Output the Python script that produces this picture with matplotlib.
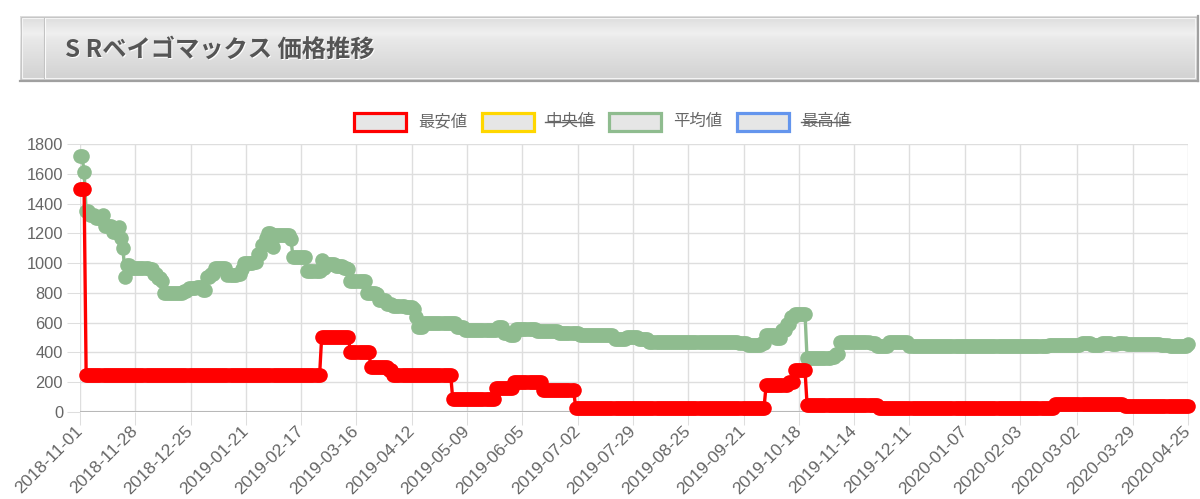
import numpy as np
import pandas as pd
import matplotlib
matplotlib.use("Agg")
import matplotlib.pyplot as plt
import matplotlib.dates as mdates
from matplotlib.patches import Rectangle
from matplotlib.lines import Line2D

plt.rcParams['font.family'] = ['Liberation Sans', 'Noto Sans CJK JP', 'DejaVu Sans']

# ---------------- data ----------------
title = "S Rベイゴマックス 価格推移"
series_names = ["最安値", "中央値", "平均値", "最高値"]
series_colors = ["#ff0000", "#ffd700", "#8fbc8f", "#6495ed"]
series_hidden = [False, True, False, True]

start_date = "2018-11-01"
end_date = "2020-04-25"

# 最安値: dates where the value changes, and the new value (constant until next change)
min_change_dates = ["2018-11-01", "2018-11-04", "2019-02-27", "2019-03-13", "2019-03-23",
                    "2019-04-01", "2019-04-03", "2019-05-02", "2019-05-23", "2019-06-01",
                    "2019-06-15", "2019-07-01", "2019-10-02", "2019-10-13", "2019-10-16",
                    "2019-10-22", "2019-11-26", "2020-02-20", "2020-03-25"]
min_change_values = [1500, 250, 505, 405, 305,
                     285, 250, 85, 160, 200,
                     150, 30, 180, 200, 280,
                     50, 30, 55, 40]

# 平均値: dates where the value changes, and the new value
avg_change_dates = ["2018-11-01", "2018-11-03", "2018-11-04", "2018-11-06", "2018-11-09",
                    "2018-11-12", "2018-11-13", "2018-11-17", "2018-11-20", "2018-11-21",
                    "2018-11-22", "2018-11-23", "2018-11-24", "2018-11-26", "2018-12-05",
                    "2018-12-07", "2018-12-09", "2018-12-11", "2018-12-12", "2018-12-22",
                    "2018-12-24", "2018-12-28", "2018-12-31", "2019-01-02", "2019-01-04",
                    "2019-01-06", "2019-01-12", "2019-01-17", "2019-01-19", "2019-01-20",
                    "2019-01-25", "2019-01-27", "2019-01-29", "2019-01-31", "2019-02-01",
                    "2019-02-03", "2019-02-04", "2019-02-12", "2019-02-13", "2019-02-20",
                    "2019-02-27", "2019-02-28", "2019-03-01", "2019-03-06", "2019-03-10",
                    "2019-03-12", "2019-03-13", "2019-03-21", "2019-03-26", "2019-03-27",
                    "2019-03-31", "2019-04-03", "2019-04-09", "2019-04-13", "2019-04-14",
                    "2019-04-15", "2019-04-18", "2019-05-04", "2019-05-08", "2019-05-24",
                    "2019-05-27", "2019-05-30", "2019-06-02", "2019-06-12", "2019-06-23",
                    "2019-07-03", "2019-07-20", "2019-07-26", "2019-08-01", "2019-08-06",
                    "2019-09-19", "2019-09-23", "2019-09-30", "2019-10-02", "2019-10-07",
                    "2019-10-10", "2019-10-12", "2019-10-14", "2019-10-16", "2019-10-22",
                    "2019-11-03", "2019-11-05", "2019-11-07", "2019-11-22", "2019-11-25",
                    "2019-11-29", "2019-12-01", "2019-12-09", "2019-12-11", "2020-02-17",
                    "2020-03-04", "2020-03-09", "2020-03-14", "2020-03-19", "2020-03-22",
                    "2020-03-26", "2020-04-12", "2020-04-16", "2020-04-25"]
avg_change_values = [1720, 1610, 1350, 1320, 1300,
                     1320, 1250, 1210, 1240, 1170,
                     1100, 910, 990, 970, 960,
                     930, 900, 880, 800, 810,
                     830, 840, 820, 910, 930,
                     970, 920, 930, 960, 1000,
                     1010, 1060, 1120, 1170, 1200,
                     1110, 1190, 1160, 1040, 950,
                     1020, 970, 995, 980, 970,
                     960, 880, 800, 790, 750,
                     725, 715, 705, 690, 640,
                     570, 600, 570, 550, 570,
                     530, 520, 560, 545, 530,
                     520, 490, 505, 490, 470,
                     465, 450, 465, 520, 500,
                     550, 590, 640, 660, 360,
                     370, 390, 470, 465, 445,
                     440, 470, 470, 440, 450,
                     465, 450, 465, 455, 465,
                     455, 450, 445, 455]

x_tick_labels = ["2018-11-01", "2018-11-28", "2018-12-25", "2019-01-21", "2019-02-17",
                 "2019-03-16", "2019-04-12", "2019-05-09", "2019-06-05", "2019-07-02",
                 "2019-07-29", "2019-08-25", "2019-09-21", "2019-10-18", "2019-11-14",
                 "2019-12-11", "2020-01-07", "2020-02-03", "2020-03-02", "2020-03-29",
                 "2020-04-25"]
y_ticks = [0, 200, 400, 600, 800, 1000, 1200, 1400, 1600, 1800]


def daily(dates, values):
    idx = pd.date_range(start_date, end_date, freq="D")
    s = pd.Series(values, index=pd.to_datetime(dates)).reindex(idx).ffill()
    return mdates.date2num(idx.to_pydatetime()), s.values


# ---------------- figure ----------------
W, H = 1200, 499
fig = plt.figure(figsize=(W / 100, H / 100), dpi=100)

# overlay in pixel coordinates for header + legend
ov = fig.add_axes([0, 0, 1, 1])
ov.set_xlim(0, W)
ov.set_ylim(H, 0)
ov.axis("off")

# header gradient
stops_y = np.array([0, 4, 17, 24, 60, 64])
stops_c = np.array([[0.87, 0.87, 0.87], [0.88, 0.88, 0.88], [0.94, 0.94, 0.94],
                    [0.91, 0.91, 0.91], [0.83, 0.83, 0.83], [0.82, 0.82, 0.82]])
yy = np.linspace(0, 64, 128)
grad = np.stack([np.interp(yy, stops_y, stops_c[:, k]) for k in range(3)], axis=-1)[:, None, :]
ov.imshow(grad, extent=[20, 1197, 80, 16], aspect="auto", zorder=0, interpolation="bilinear")
ov.set_xlim(0, W)
ov.set_ylim(H, 0)
ov.add_patch(Rectangle((20.5, 16.5), 1176, 63, fill=False, edgecolor="#c4c4c4", lw=0.8, zorder=1))
ov.add_patch(Rectangle((22, 18), 1173, 60, fill=False, edgecolor="#f4f4f4", lw=0.8, zorder=1))
ov.add_line(Line2D([20, 1198], [80.5, 80.5], color="#a0a0a0", lw=1.6, zorder=2))
ov.add_line(Line2D([1197.5, 1197.5], [16, 81], color="#a0a0a0", lw=1.6, zorder=2))
ov.add_line(Line2D([43.5, 43.5], [18, 78], color="#c0c0c0", lw=0.8, zorder=2))
ov.add_line(Line2D([44.6, 44.6], [18, 78], color="#fafafa", lw=0.8, zorder=2))
title_font = dict(family=["Noto Sans CJK JP", "DejaVu Sans"], fontsize=17.5, fontweight="bold",
                  va="center", ha="left")
ov.text(66.2, 51.2, title, color="white", zorder=3, **title_font)
ov.text(65, 50, title, color="#555555", zorder=4, **title_font)

# legend
box_x = [352, 480, 607, 735]
lab_x = [418, 545, 673, 801]
for bx, lx, name, col, hid in zip(box_x, lab_x, series_names, series_colors, series_hidden):
    ov.add_patch(Rectangle((bx + 1.5, 112.5), 52, 18, facecolor="#e6e6e6", edgecolor=col,
                           lw=2.3, zorder=3))
    t = ov.text(lx, 121.5, name, color="#666666", fontsize=11.8, va="center", ha="left",
                family=["Noto Sans CJK JP", "DejaVu Sans"], zorder=3)
    if hid:
        ov.add_line(Line2D([lx, lx + 49], [121.5, 121.5], color="#666666", lw=1.0, zorder=4))

# main chart
ax = fig.add_axes([80 / W, 1 - 412 / H, 1108 / W, 268 / H])
ax.set_facecolor("none")
x0 = mdates.date2num(pd.Timestamp(start_date).to_pydatetime())
x1 = mdates.date2num(pd.Timestamp(end_date).to_pydatetime())
ax.set_xlim(x0, x1)
ax.set_ylim(0, 1800)

grid_col = "#dedede"
ax.set_yticks(y_ticks)
ax.set_yticklabels([str(v) for v in y_ticks])
tick_pos = mdates.date2num(pd.to_datetime(x_tick_labels).to_pydatetime())
ax.set_xticks(tick_pos)
ax.set_xticklabels(x_tick_labels)
ax.grid(True, color=grid_col, lw=1.0)
ax.set_axisbelow(True)
for s in ax.spines.values():
    s.set_visible(False)
ax.tick_params(axis="both", length=9.4, width=0.75, color=grid_col, labelcolor="#666666",
               labelsize=11.8)
ax.tick_params(axis="y", pad=2.8)
ax.tick_params(axis="x", pad=2.5, labelsize=12.6)
plt.setp(ax.get_xticklabels(), rotation=45, ha="right", va="center", rotation_mode="anchor")
ax.axhline(0, color="#b8b8b8", lw=1.5, zorder=1.5)
ax.yaxis.get_major_ticks()[0].tick1line.set_color("#b8b8b8")

xa, ya = daily(avg_change_dates, avg_change_values)
xm, ym = daily(min_change_dates, min_change_values)
ax.plot(xa, ya, color=series_colors[2], lw=2.4, marker="o", ms=10.5, mew=0,
        mfc=series_colors[2], clip_on=False, zorder=3)
ax.plot(xm, ym, color=series_colors[0], lw=2.4, marker="o", ms=10.5, mew=0,
        mfc=series_colors[0], clip_on=False, zorder=4)

fig.savefig("out.png", dpi=100)
